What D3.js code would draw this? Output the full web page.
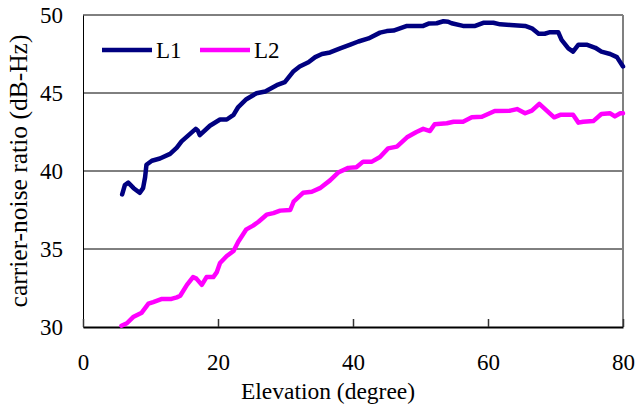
<!DOCTYPE html>
<html>
<head>
<meta charset="utf-8">
<script src="https://cdn.jsdelivr.net/npm/d3@7"></script>
<style>
  html, body { margin: 0; padding: 0; background: #fff; }
  svg { display: block; }
  svg text { font-family: "Liberation Serif", "Times New Roman", "DejaVu Serif", serif; fill: #000; }
</style>
</head>
<body>
<svg id="chart" width="637" height="407"></svg>
<script>
// Elevation (degrees) and carrier-to-noise ratio (dB-Hz) for the two signals
const l1Elev = [5.8, 6.2, 6.7, 7.5, 8.4, 8.9, 9.2, 9.4, 10.2, 11.4, 12.9, 13.9, 14.6, 15.9, 16.7, 17.0, 17.3, 18.8, 20.3, 21.3, 22.3, 23.0, 24.2, 25.7, 27.0, 28.7, 29.9, 31.2, 32.1, 33.4, 34.4, 35.4, 36.6, 38.1, 39.6, 40.8, 42.3, 44.0, 45.0, 46.0, 48.0, 50.4, 51.2, 52.4, 53.4, 54.1, 54.6, 56.3, 58.1, 59.3, 60.8, 61.8, 63.3, 65.5, 66.5, 67.5, 68.4, 69.2, 70.4, 70.9, 71.9, 72.6, 73.4, 74.6, 75.9, 76.8, 78.1, 79.1, 80.0];
const l1Cn0  = [38.5, 39.1, 39.25, 38.9, 38.6, 38.9, 39.6, 40.4, 40.66, 40.8, 41.1, 41.5, 41.9, 42.4, 42.7, 42.6, 42.3, 42.9, 43.3, 43.3, 43.6, 44.1, 44.6, 44.98, 45.1, 45.5, 45.7, 46.4, 46.7, 46.97, 47.3, 47.5, 47.6, 47.86, 48.1, 48.3, 48.5, 48.87, 48.97, 49.0, 49.3, 49.3, 49.45, 49.47, 49.6, 49.57, 49.47, 49.3, 49.3, 49.5, 49.5, 49.4, 49.36, 49.3, 49.15, 48.8, 48.8, 48.9, 48.9, 48.4, 47.86, 47.65, 48.1, 48.1, 47.9, 47.65, 47.5, 47.3, 46.7];

const l2Elev = [5.7, 6.5, 7.5, 8.7, 9.7, 10.4, 11.7, 13.1, 13.9, 14.4, 15.4, 16.3, 16.8, 17.6, 18.3, 19.3, 19.8, 20.3, 21.3, 22.3, 23.0, 24.2, 25.2, 26.0, 27.2, 28.2, 29.2, 30.7, 31.2, 32.6, 33.9, 35.1, 36.6, 37.8, 39.3, 40.5, 41.5, 42.8, 44.0, 45.2, 46.5, 48.0, 49.4, 50.4, 51.4, 52.1, 53.9, 54.9, 56.3, 57.6, 59.1, 61.0, 63.3, 64.3, 65.5, 66.5, 67.6, 68.7, 69.8, 70.7, 72.6, 73.4, 74.1, 75.6, 76.8, 78.1, 78.8, 79.6, 80.0];
const l2Cn0  = [30.08, 30.24, 30.66, 30.92, 31.5, 31.6, 31.8, 31.8, 31.9, 32.0, 32.7, 33.2, 33.1, 32.7, 33.2, 33.2, 33.5, 34.1, 34.55, 34.87, 35.47, 36.26, 36.5, 36.75, 37.2, 37.3, 37.46, 37.5, 38.03, 38.6, 38.67, 38.9, 39.4, 39.9, 40.2, 40.24, 40.6, 40.6, 40.9, 41.45, 41.56, 42.16, 42.5, 42.7, 42.56, 43.0, 43.06, 43.16, 43.16, 43.44, 43.48, 43.85, 43.87, 43.97, 43.7, 43.87, 44.3, 43.87, 43.44, 43.6, 43.6, 43.1, 43.16, 43.2, 43.65, 43.7, 43.5, 43.7, 43.7];

const xTicks = [0, 20, 40, 60, 80];
const yTicks = [30, 35, 40, 45, 50];
const seriesNames = ["L1", "L2"];
const seriesColors = ["#000080", "#ff00ff"];

const svg = d3.select("#chart");
const margin = { left: 83, right: 14, top: 15, bottom: 80 };
const W = 637, H = 407;
const x = d3.scaleLinear().domain([0, 80]).range([margin.left, W - margin.right]);
const y = d3.scaleLinear().domain([30, 50]).range([H - margin.bottom, margin.top]);
const FONT = 23;

// horizontal gridlines
svg.append("g")
  .selectAll("line")
  .data(yTicks.filter(d => d > 30 && d < 50))
  .join("line")
  .attr("x1", x(0)).attr("x2", x(80))
  .attr("y1", d => y(d)).attr("y2", d => y(d))
  .attr("stroke", "#000").attr("stroke-width", 1);

// top frame line and gray right edge
svg.append("line")
  .attr("x1", x(0)).attr("x2", x(80)).attr("y1", y(50)).attr("y2", y(50))
  .attr("stroke", "#000").attr("stroke-width", 1);
svg.append("line")
  .attr("x1", x(80)).attr("x2", x(80)).attr("y1", y(50)).attr("y2", y(30))
  .attr("stroke", "#808080").attr("stroke-width", 2);

// y axis
const yAxis = svg.append("g")
  .attr("transform", `translate(${x(0)},0)`)
  .call(d3.axisLeft(y).tickValues(yTicks).tickSize(0).tickPadding(20).tickFormat(d3.format("d")));
yAxis.attr("font-family", null).attr("font-size", null);
yAxis.select(".domain").attr("stroke", "#000").attr("stroke-width", 1);
yAxis.selectAll("text").style("font-size", FONT + "px");

// x axis with inward ticks
const xAxis = svg.append("g")
  .attr("transform", `translate(0,${y(30)})`)
  .call(d3.axisBottom(x).tickValues(xTicks).tickSizeInner(-8).tickSizeOuter(0).tickPadding(27).tickFormat(d3.format("d")));
xAxis.attr("font-family", null).attr("font-size", null);
xAxis.select(".domain").attr("stroke", "#000").attr("stroke-width", 2);
xAxis.selectAll(".tick line").attr("stroke", "#333").attr("stroke-width", 1.5);
xAxis.selectAll("text").style("font-size", FONT + "px");

// data lines
const line = d3.line().x(d => x(d[0])).y(d => y(d[1])).curve(d3.curveLinear);
const series = [
  d3.zip(l1Elev, l1Cn0),
  d3.zip(l2Elev, l2Cn0)
];
svg.append("g")
  .selectAll("path")
  .data(series)
  .join("path")
  .attr("d", line)
  .attr("fill", "none")
  .attr("stroke", (d, i) => seriesColors[i])
  .attr("stroke-width", 4.5)
  .attr("stroke-linejoin", "round")
  .attr("stroke-linecap", "round");

// legend
const legend = svg.append("g").attr("transform", "translate(102,50)");
const items = legend.selectAll("g").data(seriesNames).join("g")
  .attr("transform", (d, i) => `translate(${i * 98},0)`);
items.append("line")
  .attr("x1", 0).attr("x2", 50).attr("y1", 0).attr("y2", 0)
  .attr("stroke", (d, i) => seriesColors[i]).attr("stroke-width", 4.5);
items.append("text")
  .attr("x", 54).attr("y", 8)
  .style("font-size", FONT + "px")
  .text(d => d);

// axis titles
svg.append("text")
  .attr("x", 328).attr("y", 399)
  .attr("text-anchor", "middle").style("font-size", "23.5px")
  .text("Elevation (degree)");
svg.append("text")
  .attr("transform", "translate(27,171) rotate(-90)")
  .attr("text-anchor", "middle").style("font-size", "25.5px")
  .text("carrier-noise ratio (dB-Hz)");
</script>
</body>
</html>
